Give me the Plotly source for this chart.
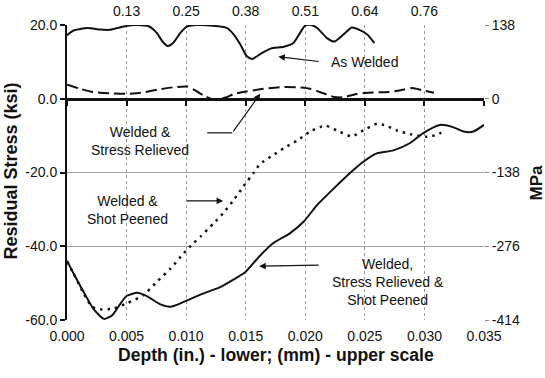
import plotly.graph_objects as go

# ---------------- data (depth in inches, stress in ksi) ----------------
aw_x = [0.0000, 0.00055, 0.0017, 0.0028, 0.0036, 0.00475, 0.0059, 0.0069, 0.00755, 0.0080,
        0.00845, 0.0089, 0.0095, 0.0101, 0.0109, 0.0123, 0.0134, 0.0140, 0.01455, 0.0151,
        0.01555, 0.01635, 0.0171, 0.0182, 0.0190, 0.01955, 0.0200, 0.0205, 0.0210, 0.0218,
        0.02245, 0.0232, 0.0239, 0.02445, 0.0252, 0.0258]
aw_y = [17.2, 18.5, 19.2, 18.75, 18.7, 19.6, 20.0, 19.6, 17.8, 15.6,
        14.3, 15.1, 17.8, 19.6, 20.0, 19.8, 19.2, 17.4, 14.7, 11.5,
        10.8, 12.4, 13.6, 14.1, 15.1, 17.8, 19.9, 20.0, 19.2, 16.5,
        15.5, 17.4, 19.3, 18.8, 17.4, 15.1]

sr_x = [0.0000, 0.0011, 0.0022, 0.0036, 0.0050, 0.0062, 0.0076, 0.0089, 0.0101, 0.0108,
        0.0115, 0.0124, 0.0134, 0.0140, 0.0151, 0.0165, 0.0182, 0.0193, 0.0204, 0.0215,
        0.0224, 0.0232, 0.0243, 0.0257, 0.0270, 0.0283, 0.0290, 0.0298, 0.0308]
sr_y = [3.8, 2.7, 1.8, 1.45, 1.35, 1.6, 2.45, 3.1, 3.3, 2.2,
        0.8, -0.3, 0.4, 1.3, 2.0, 2.7, 3.2, 3.1, 2.7, 1.5,
        0.5, 0.4, 1.3, 1.7, 1.8, 2.5, 2.9, 2.3, 1.6]

sp_x = [0.0000, 0.00055, 0.0014, 0.0021, 0.0028, 0.0039, 0.0050, 0.0064, 0.00755, 0.0087,
        0.0098, 0.0106, 0.0112, 0.0123, 0.0131, 0.0140, 0.0148, 0.0157, 0.0162, 0.0171,
        0.0182, 0.0193, 0.0204, 0.0217, 0.0227, 0.0239, 0.0249, 0.0260, 0.0266, 0.0277,
        0.0288, 0.0302, 0.0310, 0.0317]
sp_y = [-44.2, -47.4, -52.8, -56.4, -57.1, -56.9, -55.5, -53.3, -49.6, -46.0,
        -41.9, -39.2, -37.4, -33.8, -31.1, -27.4, -23.8, -19.9, -17.7, -15.7,
        -13.4, -11.4, -8.9, -7.3, -8.7, -10.2, -8.5, -6.8, -7.1, -8.6,
        -9.6, -10.3, -9.8, -8.7]

ssp_x = [0.0000, 0.00055, 0.0014, 0.0022, 0.0031, 0.0038, 0.0045, 0.0050, 0.0059, 0.0067,
         0.0078, 0.0087, 0.0098, 0.0112, 0.0129, 0.0140, 0.0150, 0.0161, 0.0173, 0.0187,
         0.0199, 0.0210, 0.0224, 0.0238, 0.0249, 0.0260, 0.0274, 0.0288, 0.0299, 0.0313,
         0.0324, 0.0333, 0.0341, 0.0350]
ssp_y = [-43.9, -47.4, -52.4, -56.9, -59.7, -58.7, -55.5, -53.5, -52.6, -53.5,
         -55.7, -56.4, -55.1, -53.1, -51.0, -49.0, -46.9, -42.9, -39.2, -36.5,
         -33.2, -28.8, -24.3, -20.0, -17.0, -14.8, -14.0, -12.0, -9.3, -7.1,
         -7.7, -8.9, -8.9, -7.1]

x_ticks = [0.000, 0.005, 0.010, 0.015, 0.020, 0.025, 0.030, 0.035]
x_ticktext = ["0.000", "0.005", "0.010", "0.015", "0.020", "0.025", "0.030", "0.035"]
top_ticks = [0.005, 0.010, 0.015, 0.020, 0.025, 0.030]
top_ticktext = ["0.13", "0.25", "0.38", "0.51", "0.64", "0.76"]
y_ticks = [20, 0, -20, -40, -60]
y_ticktext = ["20.0", "0.0", "-20.0", "-40.0", "-60.0"]
mpa_ticktext = ["138", "0", "-138", "-276", "-414"]

X_RANGE = [0, 0.035]
Y_RANGE = [-60, 20]
FONT = "Liberation Sans, Arial, Helvetica, sans-serif"
INK = "#111111"

fig = go.Figure()
fig.add_trace(go.Scatter(x=aw_x, y=aw_y, mode="lines", name="As Welded",
                         line=dict(color=INK, width=2, shape="spline", smoothing=0.6)))
fig.add_trace(go.Scatter(x=sr_x, y=sr_y, mode="lines", name="Welded & Stress Relieved",
                         line=dict(color=INK, width=2, dash="11px,5px", shape="spline", smoothing=0.6)))
fig.add_trace(go.Scatter(x=sp_x, y=sp_y, mode="lines", name="Welded & Shot Peened",
                         line=dict(color=INK, width=2.5, dash="2.5px,5px", shape="spline", smoothing=0.6)))
fig.add_trace(go.Scatter(x=ssp_x, y=ssp_y, mode="lines", name="Welded, Stress Relieved & Shot Peened",
                         line=dict(color=INK, width=2, shape="spline", smoothing=0.6)))
# invisible helpers so overlay axes are drawn
fig.add_trace(go.Scatter(x=[None], y=[None], xaxis="x2", yaxis="y", hoverinfo="skip", showlegend=False))
fig.add_trace(go.Scatter(x=[None], y=[None], xaxis="x3", yaxis="y", hoverinfo="skip", showlegend=False))
fig.add_trace(go.Scatter(x=[None], y=[None], xaxis="x", yaxis="y2", hoverinfo="skip", showlegend=False))

tickfont = dict(family=FONT, size=14, color=INK)

fig.update_layout(
    width=545, height=378,
    margin=dict(l=67, r=61, t=25, b=58, autoexpand=False),
    paper_bgcolor="white", plot_bgcolor="white",
    showlegend=False,
    font=dict(family=FONT, size=14, color=INK),
    xaxis=dict(range=X_RANGE, tickvals=x_ticks, ticktext=x_ticktext, tickfont=tickfont,
               showgrid=True, gridcolor="#9a9a9a", gridwidth=1, griddash="3px,3px",
               zeroline=False, showline=False, ticks="outside", ticklen=3,
               tickcolor="rgba(0,0,0,0)", automargin=False),
    yaxis=dict(range=Y_RANGE, tickvals=y_ticks, ticktext=y_ticktext, tickfont=tickfont,
               showgrid=True, gridcolor="#a5a5a5", gridwidth=1,
               zeroline=False, showline=True, linecolor=INK, linewidth=2,
               ticks="outside", ticklen=5, tickwidth=1.5, tickcolor=INK, automargin=False),
    xaxis2=dict(range=X_RANGE, overlaying="x", anchor="free", position=0.75,
                tickvals=x_ticks, showticklabels=False, ticks="outside", ticklen=5,
                tickwidth=1.5, tickcolor=INK, showline=True, linecolor=INK, linewidth=2.5,
                showgrid=False, zeroline=False, automargin=False),
    xaxis3=dict(range=X_RANGE, overlaying="x", side="top", anchor="y",
                tickvals=top_ticks, ticktext=top_ticktext, tickfont=tickfont,
                ticks="outside", ticklen=2, tickcolor="rgba(0,0,0,0)",
                showgrid=False, showline=False, zeroline=False, automargin=False),
    yaxis2=dict(range=Y_RANGE, overlaying="y", side="right", anchor="x",
                tickvals=y_ticks, ticktext=mpa_ticktext, tickfont=tickfont,
                ticks="outside", ticklen=4, tickcolor="#888888",
                showgrid=False, showline=False, zeroline=False, automargin=False),
)

# connector segment for the "Welded & Stress Relieved" leader
fig.add_shape(type="line", xref="x", yref="y", x0=0.01177, y0=-9.24, x1=0.01387, y1=-9.24,
              line=dict(color=INK, width=1.2))

ann_font = dict(family=FONT, size=14, color=INK)
annotations = [
    # labels
    dict(x=0.02498, y=10.05, text="As Welded", showarrow=False, font=ann_font),
    dict(x=0.00616, y=-11.55, text="Welded &<br>Stress Relieved", showarrow=False, font=ann_font),
    dict(x=0.00506, y=-30.2, text="Welded &<br>Shot Peened", showarrow=False, font=ann_font),
    dict(x=0.02696, y=-49.6, text="Welded,<br>Stress Relieved &<br>Shot Peened", showarrow=False,
         font=ann_font),
    # leader arrows
    dict(x=0.01773, y=11.4, ax=0.02125, ay=10.05, axref="x", ayref="y", text="",
         showarrow=True, arrowhead=2, arrowsize=1.1, arrowwidth=1.2, arrowcolor=INK),
    dict(x=0.01622, y=1.36, ax=0.01387, ay=-9.24, axref="x", ayref="y", text="",
         showarrow=True, arrowhead=2, arrowsize=1.1, arrowwidth=1.2, arrowcolor=INK),
    dict(x=0.01311, y=-27.7, ax=0.00994, ay=-27.7, axref="x", ayref="y", text="",
         showarrow=True, arrowhead=2, arrowsize=1.1, arrowwidth=1.2, arrowcolor=INK),
    dict(x=0.01613, y=-45.4, ax=0.02125, ay=-45.1, axref="x", ayref="y", text="",
         showarrow=True, arrowhead=2, arrowsize=1.1, arrowwidth=1.2, arrowcolor=INK),
    # axis titles
    dict(xref="paper", yref="paper", x=0, y=0.5, xshift=-57, yshift=1, textangle=-90,
         text="<b>Residual Stress (ksi)</b>", showarrow=False,
         font=dict(family=FONT, size=18, color=INK), xanchor="center", yanchor="middle"),
    dict(xref="paper", yref="paper", x=1, y=0.5, xshift=52, yshift=-10, textangle=-90,
         text="<b>MPa</b>", showarrow=False,
         font=dict(family=FONT, size=17, color=INK), xanchor="center", yanchor="middle"),
    dict(xref="paper", yref="paper", x=0.5, y=0, yshift=-35,
         text="<b>Depth (in.) - lower; (mm) - upper scale</b>", showarrow=False,
         font=dict(family=FONT, size=17.6, color=INK), xanchor="center", yanchor="middle"),
]
fig.update_layout(annotations=annotations)

fig.write_html("out.html", config={"displayModeBar": False},
               post_script="document.body.style.margin='0px';document.body.style.overflow='hidden';")
